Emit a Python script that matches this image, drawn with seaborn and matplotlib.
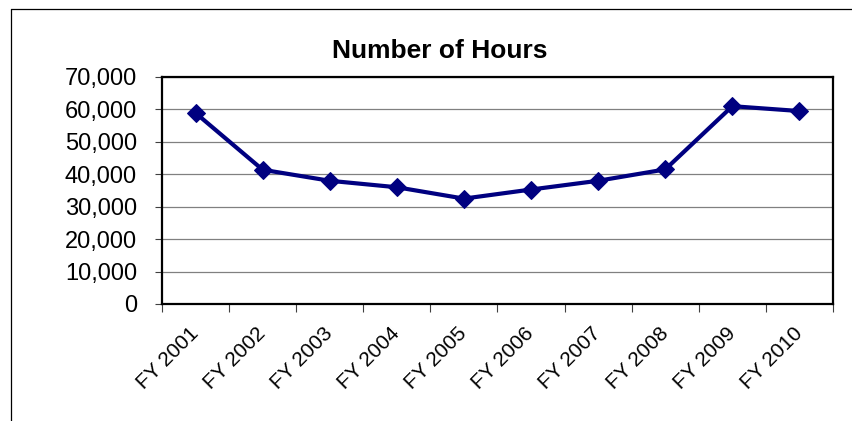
import matplotlib
matplotlib.use("Agg")
import matplotlib.pyplot as plt
import matplotlib.ticker as mticker
from matplotlib.lines import Line2D
import seaborn as sns
import pandas as pd

categories = ["FY 2001", "FY 2002", "FY 2003", "FY 2004", "FY 2005",
              "FY 2006", "FY 2007", "FY 2008", "FY 2009", "FY 2010"]
hours = [58900, 41400, 38000, 36000, 32500, 35300, 38000, 41500, 61000, 59500]
y_ticks = [0, 10000, 20000, 30000, 40000, 50000, 60000, 70000]
title = "Number of Hours"

sns.set_style("white")
plt.rcParams['font.family'] = ['Liberation Sans', 'DejaVu Sans']
plt.rcParams['text.color'] = 'black'
plt.rcParams['xtick.color'] = 'black'
plt.rcParams['ytick.color'] = 'black'
plt.rcParams['axes.labelcolor'] = 'black'

W, H = 853, 421
fig = plt.figure(figsize=(W / 100, H / 100), dpi=100)
ax = fig.add_axes([162 / W, 1 - 304 / H, (833 - 162) / W, (304 - 77) / H])

df = pd.DataFrame({"cat": categories, "hours": hours})
sns.lineplot(data=df, x="cat", y="hours", ax=ax, color="#000080",
             linewidth=3, marker="D", markersize=9.5,
             markeredgecolor="#000080", markerfacecolor="#000080", sort=False)

ax.set_xlim(-0.5, len(categories) - 0.5)
ax.set_ylim(0, 70000)
ax.set_yticks(y_ticks)
ax.yaxis.set_major_formatter(mticker.StrMethodFormatter('{x:,.0f}'))
ax.yaxis.grid(True, color="#808080", linewidth=0.9)
ax.set_axisbelow(True)
ax.set_xlabel("")
ax.set_ylabel("")

ax.set_xticks(range(len(categories)))
ax.set_xticklabels(categories, rotation=45, ha="right", va="center",
                   rotation_mode="anchor", fontsize=15, color="black")
ax.set_xticks([i - 0.5 for i in range(len(categories) + 1)], minor=True)
ax.tick_params(axis="x", which="major", length=0, pad=19)
ax.tick_params(axis="x", which="minor", length=6, width=0.8, color="#404040",
               direction="out", bottom=True)
ax.tick_params(axis="y", which="major", length=5, width=0.8, color="#404040",
               labelcolor="black", direction="out", left=True, labelsize=17, pad=13)

for s in ax.spines.values():
    s.set_visible(True)
    s.set_color("black")
    s.set_linewidth(1.6)

fig.text(439.5 / W, 1 - 58 / H, title, ha="center", va="baseline",
         fontsize=19, fontweight="bold", color="black")

# Outer chart border (partially visible)
fig.add_artist(Line2D([11 / W, 1.0], [1 - 9 / H, 1 - 9 / H],
                      transform=fig.transFigure, color="black", linewidth=0.9))
fig.add_artist(Line2D([11 / W, 11 / W], [0.0, 1 - 9 / H],
                      transform=fig.transFigure, color="black", linewidth=0.9))

fig.savefig("out.png", dpi=100)
